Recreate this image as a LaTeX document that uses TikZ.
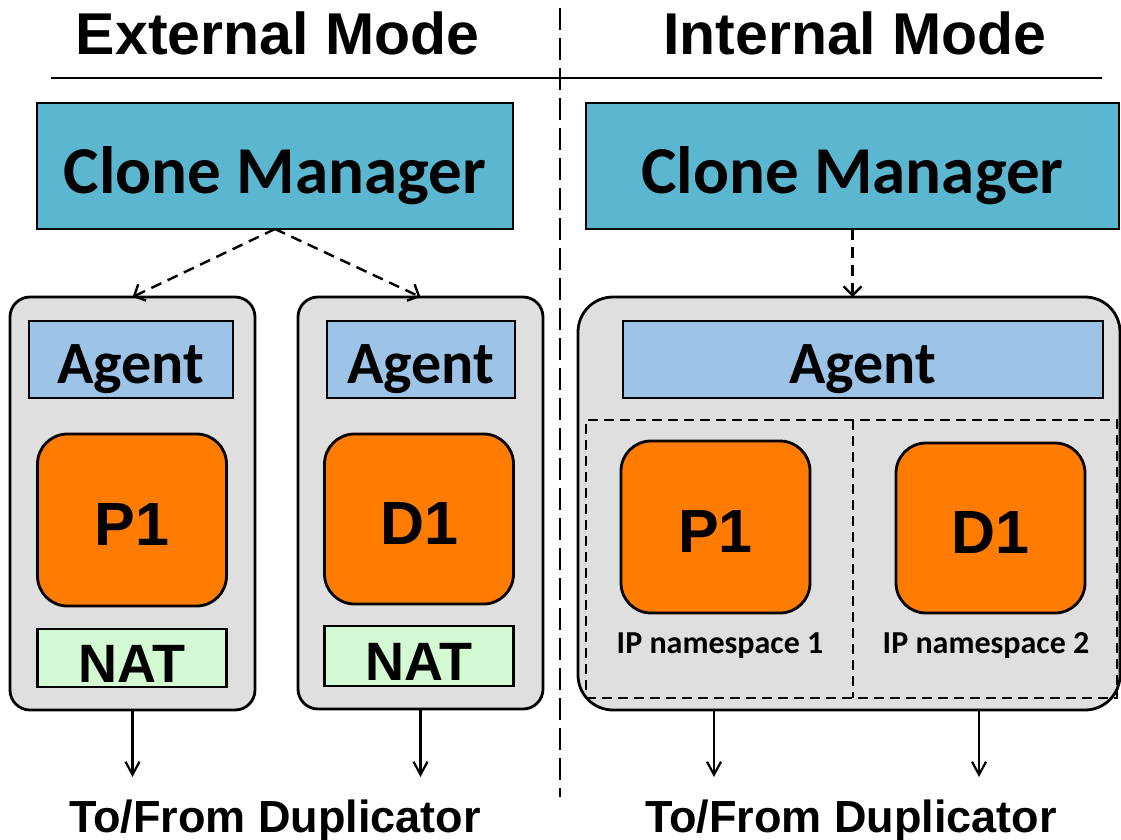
\documentclass[tikz,border=0pt]{standalone}
\usepackage{fontspec}
\setmainfont{Liberation Sans}
\newfontfamily\calib{Carlito}
\usetikzlibrary{arrows.meta}
\definecolor{cmblue}{HTML}{5BB7D0}
\definecolor{agblue}{HTML}{9DC3E6}
\definecolor{porange}{HTML}{FF7C00}
\definecolor{natgreen}{HTML}{D4FAD4}
\definecolor{contgray}{HTML}{DFDFDF}
\tikzset{
  boxline/.style={draw=black, line width=2.8pt, inner sep=0pt, outer sep=0pt},
  cmbox/.style={boxline, fill=cmblue, minimum height=126pt, text height=54pt, text depth=0pt,
    font=\calib\bfseries\fontsize{67}{67}\selectfont},
  agentbox/.style={boxline, fill=agblue, minimum height=77pt, text height=48pt, text depth=0pt,
    font=\calib\bfseries\fontsize{60}{60}\selectfont},
  procbox/.style={boxline, fill=porange, rounded corners=30pt, minimum width=189pt, text height=50pt, text depth=0pt,
    font=\bfseries\fontsize{61}{61}\selectfont},
  natbox/.style={boxline, fill=natgreen, minimum width=188.5pt, text height=49pt, text depth=0pt,
    font=\bfseries\fontsize{54}{54}\selectfont},
  contbox/.style={boxline, fill=contgray, minimum height=413pt},
  ttl/.style={anchor=base, inner sep=0pt, font=\bfseries\fontsize{59}{59}\selectfont},
  dup/.style={anchor=base, inner sep=0pt, font=\bfseries\fontsize{45}{45}\selectfont},
  nslabel/.style={anchor=base, inner sep=0pt, font=\calib\bfseries\fontsize{32}{32}\selectfont},
  dasharrow/.style={line width=2.4pt, dash pattern=on 11pt off 7pt, -{Straight Barb[length=9pt,width=18pt,line width=2.4pt]}},
  solidarrow/.style={line width=2.2pt, -{Straight Barb[length=13pt,width=14pt,line width=2.2pt]}},
  nsdash/.style={draw=black, line width=2.4pt, dash pattern=on 10pt off 6pt},
}
\begin{document}
\begin{tikzpicture}[x=1pt,y=-1pt]
\useasboundingbox (0,0) rectangle (1121,840);
% divider
\coordinate (vtop) at (560,8);
\coordinate (vbot) at (560,797);
\draw[line width=2pt, dash pattern=on 22pt off 8pt] (vtop) -- (vbot);
% titles
\node[ttl] (t1) at (277.5,55) {External Mode};
\node[ttl] (t2) at (855,55) {Internal Mode};
\coordinate (hl1) at (51,78);
\coordinate (hl2) at (1102,78);
\draw[line width=2.4pt] (hl1) -- (hl2);
% clone managers
\node[cmbox, minimum width=476pt] (cm1) at (275,166) {Clone Manager};
\node[cmbox, minimum width=533pt] (cm2) at (852.5,166) {Clone Manager};
% containers
\node[contbox, rounded corners=20pt, minimum width=245pt] (c1) at (132.5,503.5) {};
\node[contbox, rounded corners=20pt, minimum width=245pt, minimum height=412pt] (c2) at (420.5,503) {};
\node[contbox, rounded corners=35pt, minimum width=542pt] (c3) at (849,503.5) {};
% agents
\node[agentbox, minimum width=204pt] (ag1) at (131,359.5) {Agent};
\node[agentbox, minimum width=188pt] (ag2) at (421,359.5) {Agent};
\node[agentbox, minimum width=480pt] (ag3) at (863,359.5) {Agent};
% processes external
\node[procbox, minimum height=172pt] (p1) at (132,520) {P1};
\node[procbox, minimum height=170pt] (d1) at (419,519) {D1};
\node[natbox, minimum height=58pt] (nat1) at (132,658) {NAT};
\node[natbox, minimum height=60pt] (nat2) at (419,656) {NAT};
% namespaces internal
\node[nsdash, minimum width=531pt, minimum height=278pt, inner sep=0pt] (ns) at (851.5,559) {};
\coordinate (nsd1) at (853,420);
\coordinate (nsd2) at (853,698);
\draw[nsdash] (nsd1) -- (nsd2);
\node[procbox, minimum height=172pt] (p1r) at (715.5,527) {P1};
\node[procbox, minimum height=170pt] (d1r) at (990.5,528) {D1};
\node[nslabel] (ns1) at (720,653) {IP namespace 1};
\node[nslabel] (ns2) at (986,653) {IP namespace 2};
% manager arrows
\draw[dasharrow] (cm1.south) -- (c1.north);
\draw[dasharrow] (cm1.south) -- (c2.north);
\draw[dasharrow] (cm2.south) -- (cm2.south |- c3.north);
% bottom arrows
\coordinate (e1) at (132.5,777);
\coordinate (e2) at (420.5,777);
\coordinate (e3) at (714,777);
\coordinate (e4) at (979,777);
\draw[solidarrow] (c1.south) -- (e1);
\draw[solidarrow] (c2.south) -- (e2);
\draw[solidarrow] (c3.south -| e3) -- (e3);
\draw[solidarrow] (c3.south -| e4) -- (e4);
\node[dup] (dup1) at (275,832) {To/From Duplicator};
\node[dup] (dup2) at (851,832) {To/From Duplicator};
\end{tikzpicture}
\end{document}
